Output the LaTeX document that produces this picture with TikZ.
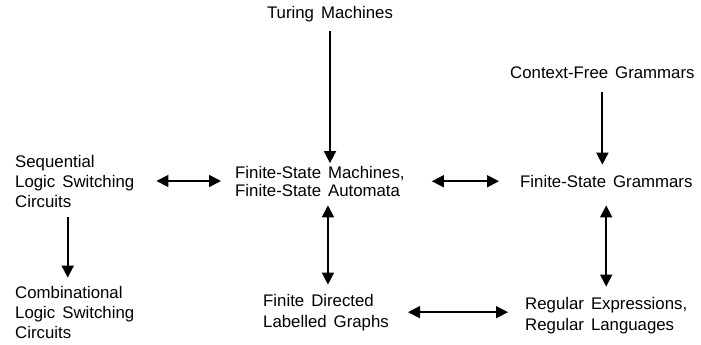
\documentclass[tikz,border=0pt]{standalone}
\usepackage{fontspec}
\setmainfont[WordSpace=1.5]{Liberation Sans}
\usetikzlibrary{arrows.meta}
\begin{document}
\begin{tikzpicture}[x=1pt,y=-1pt,
    lbl/.style={inner sep=0pt,align=left,font=\fontsize{16.8}{20}\selectfont},
    arr/.style={line width=1.8pt,-{Triangle[length=12pt,width=12pt]}},
    darr/.style={line width=1.8pt,{Triangle[length=12pt,width=12pt]}-{Triangle[length=12pt,width=12pt]}}]
  \useasboundingbox (0,0) rectangle (701,345);
  \node[lbl,anchor=base] (turing) at (330,19) {Turing Machines};
  \node[lbl,anchor=base west] (cfg) at (510,78) {Context-Free Grammars};
  \node[lbl,anchor=base west] (seq) at (15,207) {Sequential\\Logic Switching\\Circuits};
  \node[lbl,anchor=base west,font=\fontsize{16.8}{17.5}\selectfont] (fsm) at (235,196) {Finite-State Machines,\\Finite-State Automata};
  \node[lbl,anchor=base west] (fsg) at (520,187) {Finite-State Grammars};
  \node[lbl,anchor=base west] (comb) at (15,338) {Combinational\\Logic Switching\\Circuits};
  \node[lbl,anchor=base west,font=\fontsize{16.8}{21}\selectfont] (fdg) at (263,327) {Finite Directed\\Labelled Graphs};
  \node[lbl,anchor=base west,font=\fontsize{16.8}{21}\selectfont] (re) at (525,330) {Regular Expressions,\\Regular Languages};
  % vertical arrows
  \draw[arr,shorten <=8pt,shorten >=3pt] (turing.south) -- (turing.south |- fsm.north);
  \draw[arr,shorten <=14pt,shorten >=10pt] (cfg.south) -- (cfg.south |- fsg.north);
  \draw[arr,shorten <=10pt,shorten >=8pt] ([xshift=-7pt]seq.south) -- ([xshift=-7pt]seq.south |- comb.north);
  \draw[darr,shorten <=9pt,shorten >=9pt] ([xshift=8pt]fsm.south) -- ([xshift=8pt]fsm.south |- fdg.north);
  \draw[darr,shorten <=18pt,shorten >=10pt] (re.north |- fsg.south) -- (re.north);
  % horizontal arrows
  \draw[darr,shorten <=22pt,shorten >=14pt] (seq.east) -- (seq.east -| fsm.west);
  \draw[darr,shorten <=27pt,shorten >=21pt] (fsm.east) -- (fsm.east -| fsg.west);
  \draw[darr,shorten <=19pt,shorten >=17pt] (fdg.east) -- (fdg.east -| re.west);
\end{tikzpicture}
\end{document}
